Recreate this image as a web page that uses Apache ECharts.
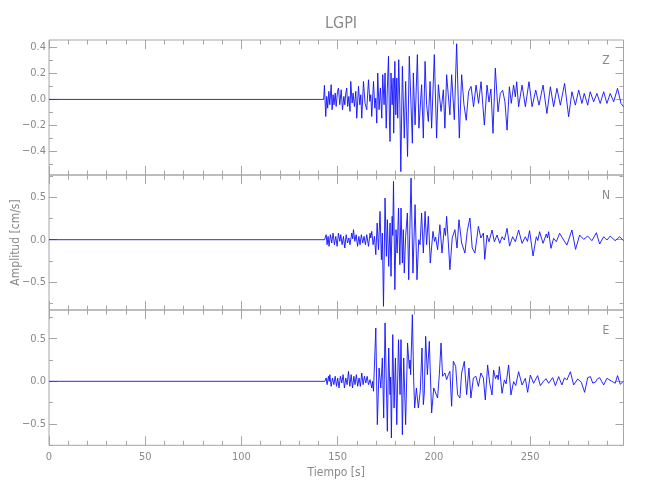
<!DOCTYPE html>
<html>
<head>
<meta charset="utf-8">
<script src="https://cdn.jsdelivr.net/npm/echarts@6/dist/echarts.min.js"></script>
<style>
html,body{margin:0;padding:0;background:#ffffff;}
#chart{width:650px;height:500px;}
</style>
</head>
<body>
<div id="chart"></div>
<script>
// ---------------- data ----------------
const chartTitle = 'LGPI';
const componentNames = ['Z', 'N', 'E'];
const xAxisTitle = 'Tiempo [s]';
const yAxisTitle = 'Amplitud [cm/s]';
const timeMin = 0;
const timeMax = 298.5;
const xMajorTicks = [0, 50, 100, 150, 200, 250];
const xMinorTicks = [10, 20, 30, 40, 60, 70, 80, 90, 110, 120, 130, 140, 160, 170, 180, 190, 210, 220, 230, 240, 260, 270, 280, 290];

const zRange = [-0.58, 0.456];
const zMajorTicks = [-0.4, -0.2, 0, 0.2, 0.4];
const zMinorTicks = [-0.5, -0.3, -0.1, 0.1, 0.3];
const nRange = [-0.827, 0.761];
const eRange = [-0.751, 0.837];
const neMajorTicks = [-0.5, 0, 0.5];
const neMinorTicks = [-0.75, -0.25, 0.25, 0.75];

const traceZ = [
[0,0],[142.7,0],
[143.1,0.108],[143.8,-0.131],[144.3,0.023],[144.8,-0.067],[145.4,0.062],[145.9,-0.041],[146.6,0.113],[147.1,-0.079],
[147.6,0.036],[148.1,-0.041],[148.7,0.049],[149.2,-0.054],[149.9,0.062],[150.4,0.087],[151.1,-0.041],[151.8,0.074],
[152.5,-0.079],[153.2,0.023],[153.7,-0.041],[154.2,0.049],[154.7,0.087],[155.2,-0.054],[155.8,0.023],[156.4,-0.092],
[156.8,0.138],[157.5,-0.028],[158.0,0.049],[158.7,-0.054],[159.4,0.062],[159.9,-0.144],[160.8,0.100],[161.5,-0.041],
[162.0,0.036],[162.5,-0.144],[163.4,0.138],[164.2,-0.028],[165.1,-0.079],[166.0,0.151],[166.7,-0.015],[167.2,0.036],
[167.7,-0.131],[168.6,0.138],[169.3,-0.067],[169.8,0.010],[170.3,-0.182],[170.8,0.203],[171.5,-0.079],[172.2,0.087],
[172.9,-0.144],[173.4,0.190],[174.1,-0.041],[174.6,0.203],[175.2,-0.221],[175.8,0.087],[176.4,0.331],[176.9,-0.169],
[177.2,-0.323],[177.7,0.203],[178.3,-0.041],[178.8,0.164],[179.1,-0.259],[179.7,0.292],[180.2,-0.118],[180.7,0.164],
[181.2,-0.144],[181.7,0.305],[182.3,-0.041],[182.8,-0.554],[183.6,0.254],[184.6,-0.297],[185.3,0.138],[186.3,-0.438],
[187.2,0.331],[188.1,-0.041],[188.8,-0.336],[189.3,0.203],[190.2,-0.195],[191.4,0.344],[192.2,-0.221],[193.6,0.113],
[194.5,-0.297],[195.4,0.292],[196.2,-0.041],[197.1,-0.169],[198.0,0.138],[198.8,-0.221],[200.2,0.344],[201.4,-0.297],
[202.3,0.113],[203.7,-0.092],[204.9,0.074],[205.7,-0.221],[206.6,0.190],[208.3,-0.118],[209.2,0.190],[210.6,-0.156],
[211.8,0.427],[213.2,-0.297],[214.4,0.190],[215.6,-0.040],[216.8,-0.160],[218.0,0.060],[219.3,0.100],[220.6,-0.056],
[221.9,0.110],[223.2,-0.030],[224.5,0.136],[226.2,-0.197],[227.6,0.110],[228.6,-0.020],[229.6,0.080],[230.7,-0.260],
[231.9,0.240],[233.3,-0.095],[234.5,0.046],[235.7,0.070],[236.9,-0.018],[238.0,-0.236],[239.2,0.097],[240.2,-0.030],
[241.4,0.110],[242.3,0.020],[243.0,0.136],[244.0,-0.056],[245.8,0.110],[247.5,-0.056],[249.4,0.136],[251.0,-0.056],
[252.9,0.072],[254.6,-0.044],[256.7,0.110],[258.7,-0.108],[260.5,0.097],[262.2,-0.056],[263.9,0.085],[265.7,-0.044],
[267.9,0.123],[270.0,-0.133],[271.7,0.059],[273.5,-0.044],[275.2,0.072],[276.9,-0.031],[278.1,0.046],[279.9,-0.044],
[281.2,0.059],[283.0,-0.018],[284.7,0.046],[286.4,-0.031],[288.2,0.059],[289.9,-0.031],[291.6,0.046],[293.4,-0.018],
[295.4,0.085],[297.2,-0.031],[298.5,-0.056]
];

const traceN = [
[0,0],[143.2,0],[143.5,0],
[144.0,0.059],[144.5,-0.059],[145.0,0.039],[145.5,-0.078],[146.2,0.059],[146.9,-0.039],[147.6,0.078],[148.3,-0.059],
[149.0,0.039],[149.7,-0.078],[150.4,0.078],[151.1,-0.020],[151.6,0.059],[152.3,-0.059],[153.0,0.039],[153.7,-0.098],
[154.4,0.059],[155.1,-0.039],[155.8,0.020],[156.4,-0.059],[157.3,0.078],[157.8,0.010],[158.2,0.118],[158.9,-0.020],
[159.6,0.059],[160.3,-0.078],[161.0,0.039],[161.6,-0.059],[162.3,0.059],[163.0,-0.039],[163.7,0.039],[164.4,-0.059],
[165.1,0.059],[166.0,-0.078],[166.8,0.078],[167.2,0.020],[167.7,0.098],[168.4,-0.059],[169.1,0.039],[169.8,-0.176],
[170.5,0.196],[171.2,-0.118],[172.0,0.333],[172.7,-0.235],[173.2,0.078],[173.8,-0.784],[174.6,0.490],[175.3,-0.196],
[175.8,0.235],[176.5,-0.314],[177.2,0.196],[177.7,-0.431],[178.3,0.275],[178.6,0.050],[179.0,0.686],[179.7,-0.588],
[180.3,0.118],[180.9,-0.157],[181.6,0.373],[182.3,-0.294],[182.9,0.373],[183.6,-0.275],[184.1,0.118],[184.6,-0.392],
[185.3,0.039],[186.2,0.314],[186.9,-0.471],[188.1,0.725],[189.1,-0.392],[190.2,0.412],[191.2,-0.471],[192.1,0.000],
[192.8,-0.059],[193.6,0.314],[194.5,-0.157],[195.4,0.333],[196.2,-0.059],[197.1,0.275],[198.1,-0.275],[199.5,0.098],
[200.3,-0.020],[200.9,0.030],[201.9,-0.118],[203.1,0.176],[204.2,-0.157],[205.4,0.137],[206.0,0.050],[206.6,0.275],
[207.5,-0.039],[208.3,-0.353],[209.5,0.020],[210.9,0.118],[212.0,-0.098],[213.0,0.235],[214.4,-0.039],[216.1,-0.157],
[217.3,0.098],[218.7,0.255],[219.9,-0.098],[221.3,-0.157],[223.1,0.157],[224.4,0.020],[225.7,0.078],[226.4,-0.231],
[227.6,0.055],[228.6,-0.024],[230.2,0.114],[231.4,-0.024],[232.8,0.055],[234.2,-0.043],[235.4,0.035],[236.6,-0.004],
[238.0,0.133],[239.3,-0.075],[240.9,0.035],[242.3,-0.024],[244.0,0.114],[245.8,-0.043],[247.5,0.035],[248.6,-0.020],
[249.7,0.106],[251.5,-0.192],[253.2,0.035],[254.0,-0.010],[254.9,0.094],[256.7,-0.043],[258.4,0.067],[259.0,0.020],
[259.6,0.094],[260.8,-0.102],[262.2,0.016],[263.6,-0.024],[265.3,0.075],[267.4,-0.004],[269.1,-0.063],[271.7,0.114],
[273.6,-0.114],[275.7,0.055],[277.8,0.004],[279.9,0.043],[282.1,-0.012],[284.4,0.082],[286.1,-0.051],[288.2,0.035],
[289.9,-0.004],[291.6,0.043],[294.2,-0.012],[296.5,0.035],[298.5,-0.012]
];

const traceE = [
[0,0],[143.3,0],[143.5,0],
[144.0,0.039],[144.5,-0.039],[145.2,0.059],[145.6,0.000],[145.9,0.078],[146.6,-0.059],[147.3,0.039],[148.0,-0.039],
[148.7,0.059],[149.4,-0.059],[150.0,0.039],[150.7,-0.078],[151.4,0.059],[152.1,-0.020],[152.8,0.078],[153.5,-0.078],
[154.2,0.039],[154.9,-0.039],[155.6,0.117],[156.3,-0.059],[157.0,0.078],[157.7,-0.078],[158.4,0.059],[159.0,-0.039],
[159.7,0.078],[160.4,-0.059],[161.1,0.039],[161.8,-0.059],[162.5,0.098],[163.2,-0.039],[163.9,0.059],[164.6,-0.020],
[165.3,0.059],[166.0,-0.039],[166.8,0.020],[167.7,-0.078],[168.1,0.000],[168.6,-0.117],[169.8,0.626],[170.6,-0.509],
[171.5,0.156],[172.4,-0.078],[173.2,0.274],[173.9,-0.430],[174.6,0.685],[175.8,-0.587],[176.5,0.391],[177.2,-0.156],
[177.5,0.050],[177.9,-0.665],[178.6,0.548],[179.3,-0.313],[180.0,0.274],[180.7,-0.509],[181.6,0.489],[182.4,-0.156],
[182.9,0.489],[183.6,-0.626],[184.3,0.274],[185.3,-0.509],[186.3,0.450],[187.2,0.150],[187.6,0.250],[187.9,0.078],
[188.8,0.782],[189.5,0.000],[190.0,-0.313],[190.9,-0.078],[191.9,-0.313],[192.9,-0.117],[193.8,0.391],[194.5,-0.274],
[195.0,-0.137],[195.7,0.528],[196.6,0.078],[197.6,0.469],[198.8,-0.372],[199.9,-0.078],[200.9,-0.137],[201.9,-0.196],
[202.8,0.078],[203.7,0.450],[204.5,0.059],[205.7,0.098],[206.6,0.020],[207.5,0.078],[208.3,0.117],[209.2,-0.293],
[210.1,0.235],[211.3,0.176],[212.3,-0.156],[213.5,-0.196],[214.4,0.098],[215.8,0.235],[217.0,-0.156],[218.2,0.156],
[219.2,-0.196],[220.5,0.039],[221.8,0.059],[223.1,-0.059],[224.4,0.098],[225.7,0.039],[226.7,-0.219],[227.9,0.192],
[229.0,-0.023],[230.2,-0.160],[231.0,0.133],[232.0,0.030],[232.8,0.074],[233.4,0.020],[234.0,0.172],[235.4,-0.141],
[236.6,0.016],[237.5,-0.030],[238.8,0.192],[240.0,-0.160],[241.4,-0.004],[242.5,-0.050],[244.0,0.113],[245.8,-0.043],
[247.5,0.035],[248.7,-0.129],[250.1,0.074],[251.8,-0.023],[253.9,0.067],[255.3,-0.051],[257.0,0.004],[258.3,0.030],
[259.6,-0.023],[261.7,0.043],[263.1,-0.051],[264.8,0.055],[266.5,-0.043],[267.8,0.040],[269.1,0.016],[270.9,0.113],
[272.6,-0.043],[274.7,0.027],[276.6,-0.012],[278.3,-0.129],[279.9,0.043],[281.3,0.055],[282.5,-0.020],[283.8,-0.012],
[285.0,0.030],[286.1,0.043],[288.2,-0.043],[289.9,0.035],[292.2,0.004],[294.2,-0.023],[295.4,0.067],[296.8,-0.035],
[298.5,0.000]
];

// ---------------- chart ----------------
const FONT = "'DejaVu Sans Condensed', 'Liberation Sans Narrow', sans-serif";
const TXT = '#8a8a8a';
const FRAME = '#a6a6a6';
const TRACE = '#1010ff';

const panels = [
  { name: componentNames[0], data: traceZ, range: zRange, major: zMajorTicks, minor: zMinorTicks },
  { name: componentNames[1], data: traceN, range: nRange, major: neMajorTicks, minor: neMinorTicks },
  { name: componentNames[2], data: traceE, range: eRange, major: neMajorTicks, minor: neMinorTicks }
];
const tops = [40, 175, 310];
const heights = [135, 135, 135.3];
const labelY = [61, 196, 331];

function fmtY(v) {
  const s = Math.abs(v).toFixed(1);
  return v < -1e-9 ? '\u2212' + s : s;
}

const grids = [], xAxes = [], yAxes = [], series = [], graphics = [];

panels.forEach((p, i) => {
  grids.push({ left: 49, width: 574.5, top: tops[i], height: heights[i], show: true,
    outerBoundsMode: 'none', containLabel: false,
    borderColor: FRAME, borderWidth: 1, backgroundColor: 'transparent' });

  const isBottom = i === panels.length - 1;
  function xAx(pos, ticks, len, withLabels) {
    return {
      type: 'value', gridIndex: i, position: pos, min: timeMin, max: timeMax,
      axisLine: { show: false, onZero: false },
      splitLine: { show: false },
      axisTick: { show: true, inside: true, length: len, customValues: ticks, lineStyle: { color: FRAME, width: 1 } },
      axisLabel: withLabels ? { show: true, customValues: ticks, color: TXT, fontFamily: FONT, fontSize: 11, margin: 6,
        formatter: v => String(Math.round(v)) } : { show: false },
      name: (withLabels ? xAxisTitle : ''), nameLocation: 'middle', nameGap: 22, nameMoveOverlap: false,
      nameTextStyle: { color: TXT, fontFamily: FONT, fontSize: 12 }
    };
  }
  xAxes.push(xAx('bottom', xMajorTicks, 9, isBottom));
  xAxes.push(xAx('bottom', xMinorTicks, 4.5, false));
  xAxes.push(xAx('top', xMajorTicks, 9, false));
  xAxes.push(xAx('top', xMinorTicks, 4.5, false));

  function yAx(pos, ticks, len, withLabels) {
    return {
      type: 'value', gridIndex: i, position: pos, min: p.range[0], max: p.range[1],
      axisLine: { show: false, onZero: false },
      splitLine: { show: false },
      axisTick: { show: true, inside: true, length: len, customValues: ticks, lineStyle: { color: FRAME, width: 1 } },
      axisLabel: withLabels ? { show: true, customValues: ticks, color: TXT, fontFamily: FONT, fontSize: 11, margin: 3,
        formatter: fmtY } : { show: false },
      name: (withLabels && i === 1 ? yAxisTitle : ''), nameLocation: 'middle', nameGap: 27, nameRotate: 90,
      nameMoveOverlap: false,
      nameTextStyle: { color: TXT, fontFamily: FONT, fontSize: 12 }
    };
  }
  yAxes.push(yAx('left', p.major, 8, true));
  yAxes.push(yAx('left', p.minor, 4, false));
  yAxes.push(yAx('right', p.major, 8, false));
  yAxes.push(yAx('right', p.minor, 4, false));

  series.push({
    type: 'line', name: p.name, xAxisIndex: 4 * i, yAxisIndex: 4 * i,
    data: p.data, showSymbol: false, symbol: 'none', sampling: 'none', clip: true,
    lineStyle: { color: TRACE, width: 0.9 }, silent: true
  });

  graphics.push({ type: 'text', x: 606, y: labelY[i], silent: true,
    style: { text: p.name, fill: TXT, font: '12px ' + FONT, align: 'center', verticalAlign: 'middle' } });
});

const chart = echarts.init(document.getElementById('chart'), null, { renderer: 'canvas' });
chart.setOption({
  animation: false,
  backgroundColor: '#ffffff',
  title: { text: chartTitle, left: 336, top: 11, textAlign: 'center',
    textStyle: { color: TXT, fontFamily: FONT, fontSize: 16, fontWeight: 'normal' } },
  grid: grids,
  xAxis: xAxes,
  yAxis: yAxes,
  series: series,
  graphic: graphics
});
</script>
</body>
</html>
